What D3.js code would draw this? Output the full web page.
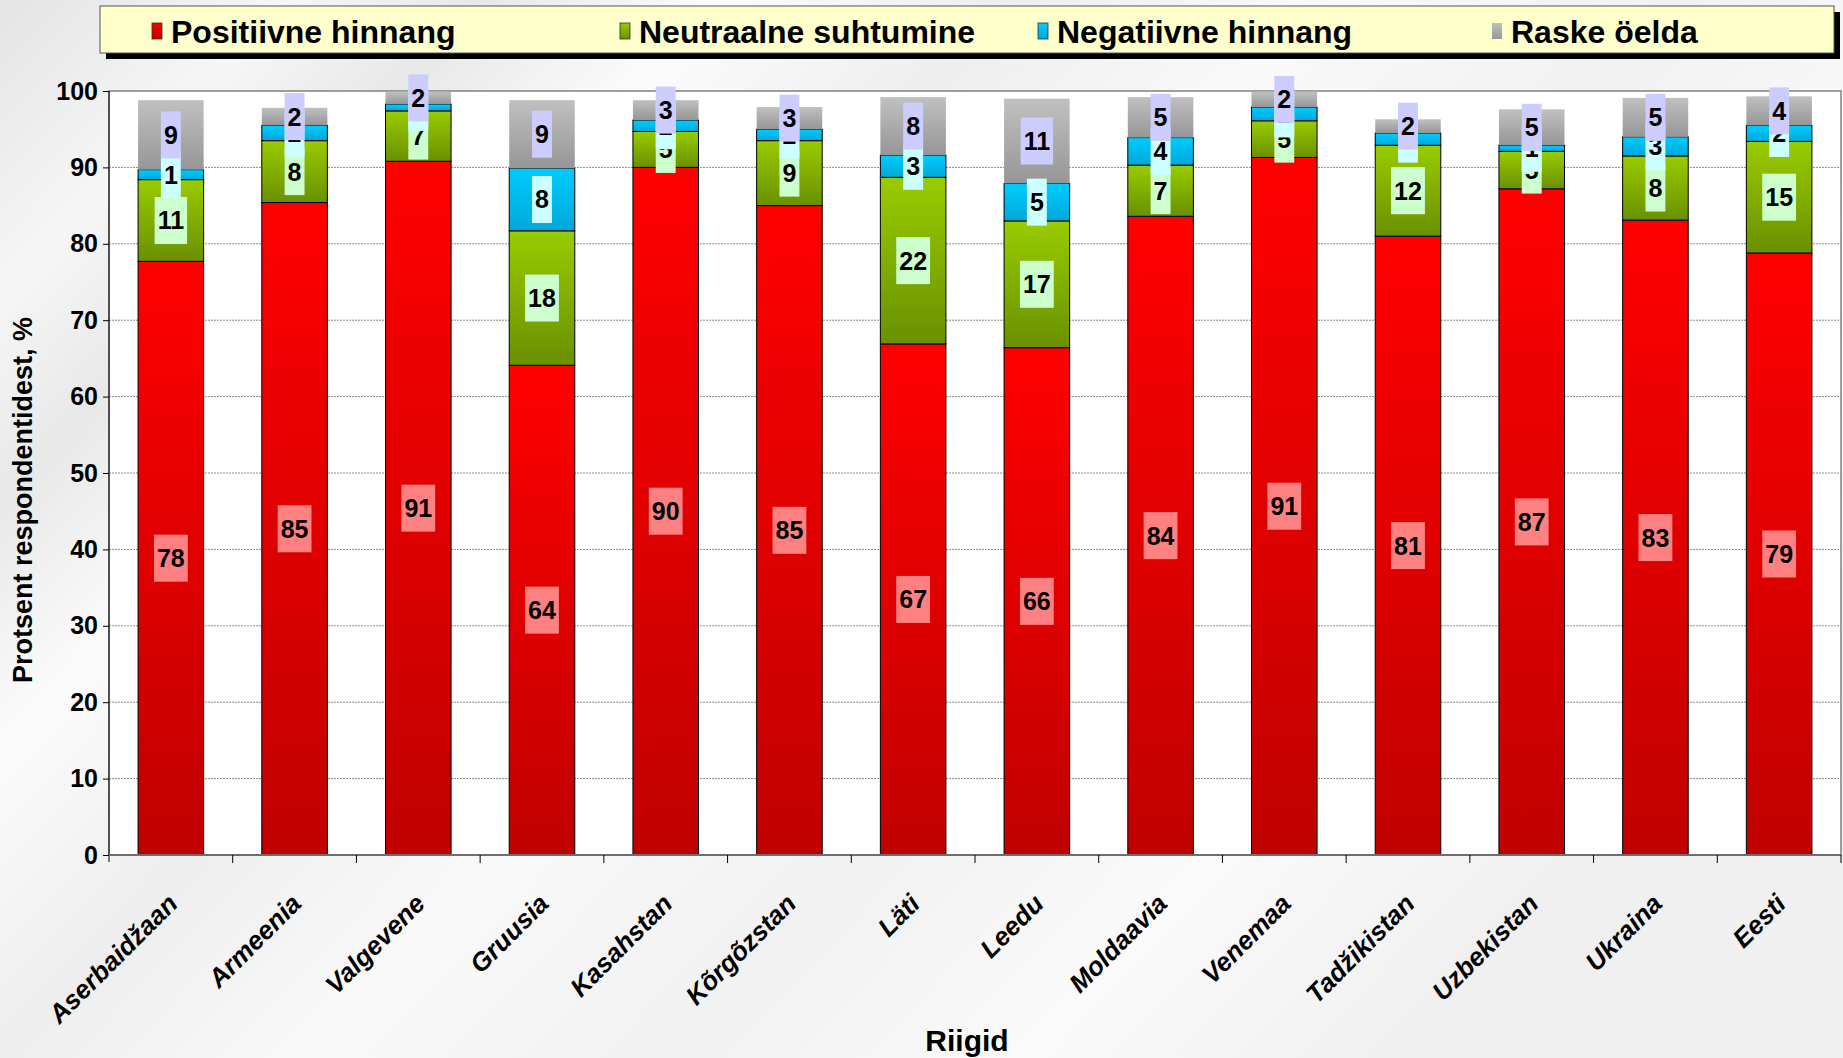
<!DOCTYPE html>
<html>
<head>
<meta charset="utf-8">
<script src="https://cdn.jsdelivr.net/npm/d3@7"></script>
<style>
  body { margin: 0; background: #f4f4f4; }
  svg { display: block; font-family: "Liberation Sans", Arial, sans-serif; }
</style>
</head>
<body>
<div id="chart"></div>
<script>
// data (percent of respondents)
const countries = ["Aserbaidžaan", "Armeenia", "Valgevene", "Gruusia", "Kasahstan", "Kõrgõzstan", "Läti",
    "Leedu", "Moldaavia", "Venemaa", "Tadžikistan", "Uzbekistan", "Ukraina", "Eesti"];
const positive = [77.7, 85.4, 90.8, 64.1, 90.0, 85.0, 66.9, 66.4, 83.6, 91.3, 81.0, 87.2, 83.1, 78.8];
const neutral  = [10.7, 8.1, 6.6, 17.6, 4.7, 8.5, 21.8, 16.6, 6.7, 4.8, 11.9, 4.9, 8.4, 14.6];
const negative = [1.3, 2.0, 0.9, 8.2, 1.5, 1.5, 2.9, 4.9, 3.6, 1.8, 1.6, 0.8, 2.5, 2.1];
const hard     = [9.1, 2.3, 1.6, 8.9, 2.6, 2.9, 7.6, 11.1, 5.3, 2.0, 1.8, 4.7, 5.1, 3.8];
const seriesNames = ["Positiivne hinnang", "Neutraalne suhtumine", "Negatiivne hinnang", "Raske öelda"];
const yTicks = [0, 10, 20, 30, 40, 50, 60, 70, 80, 90, 100];

const width = 1843, height = 1058;
const plot = {left: 109, right: 1841, top: 91, bottom: 855};

// colours per series: gradient top, gradient bottom, label box
const styles = [
    {top: '#ff0000', bottom: '#c00000', box: '#ff8080', stroke: '#000'},
    {top: '#99cc00', bottom: '#6a9000', box: '#ccffcc', stroke: '#000'},
    {top: '#00ccff', bottom: '#00a8d8', box: '#ccffff', stroke: '#000'},
    {top: '#c0c0c0', bottom: '#969696', box: '#ccccff', stroke: 'none'}
];

const keys = ['positive', 'neutral', 'negative', 'hard'];
const table = countries.map((c, i) => ({
    country: c, positive: positive[i], neutral: neutral[i], negative: negative[i], hard: hard[i]
}));
const stacked = d3.stack().keys(keys)(table);

const svg = d3.select('#chart').append('svg')
    .attr('width', width)
    .attr('height', height);

const defs = svg.append('defs');

// background with soft diagonal streaks
const bg = defs.append('linearGradient').attr('id', 'bg')
    .attr('x1', 0).attr('y1', 0).attr('x2', 1).attr('y2', 0.55);
[[0, '#e4e4e4'], [0.12, '#f6f6f6'], [0.2, '#e8e8e8'], [0.3, '#fbfbfb'], [0.42, '#eeeeee'],
 [0.55, '#f9f9f9'], [0.7, '#f1f1f1'], [0.85, '#fafafa'], [1, '#f0f0f0']]
    .forEach(s => bg.append('stop').attr('offset', s[0]).attr('stop-color', s[1]));

styles.forEach((s, i) => {
    const g = defs.append('linearGradient').attr('id', `grad${i}`)
        .attr('x1', 0).attr('y1', 0).attr('x2', 0).attr('y2', 1);
    g.append('stop').attr('offset', 0).attr('stop-color', s.top);
    g.append('stop').attr('offset', 1).attr('stop-color', s.bottom);
});

svg.append('rect').attr('width', width).attr('height', height).attr('fill', 'url(#bg)');

// scales
const x = d3.scaleBand()
    .domain(countries)
    .range([plot.left, plot.right])
    .paddingInner(0.47)
    .paddingOuter(0.235);

const y = d3.scaleLinear()
    .domain([0, 100])
    .range([plot.bottom, plot.top]);

// plot area
svg.append('rect')
    .attr('x', plot.left).attr('y', plot.top)
    .attr('width', plot.right - plot.left).attr('height', plot.bottom - plot.top)
    .attr('fill', '#fff')
    .attr('stroke', '#808080')
    .attr('stroke-width', 1.5);

// gridlines
svg.append('g')
    .selectAll('line')
    .data(yTicks.filter(t => t > 0 && t < 100))
    .join('line')
    .attr('x1', plot.left).attr('x2', plot.right)
    .attr('y1', d => y(d)).attr('y2', d => y(d))
    .attr('stroke', '#8c8c8c')
    .attr('stroke-width', 1)
    .attr('stroke-dasharray', '2,1');

// bars
const layers = svg.append('g')
    .selectAll('g')
    .data(stacked)
    .join('g')
    .attr('fill', (d, i) => `url(#grad${i})`)
    .attr('stroke', (d, i) => styles[i].stroke)
    .attr('stroke-width', 1);

layers.selectAll('rect')
    .data(d => d)
    .join('rect')
    .attr('x', d => x(d.data.country))
    .attr('y', d => y(d[1]))
    .attr('width', x.bandwidth())
    .attr('height', d => y(d[0]) - y(d[1]));

// axes
const yAxis = svg.append('g')
    .attr('transform', `translate(${plot.left},0)`)
    .call(d3.axisLeft(y).tickValues(yTicks).tickSize(6).tickPadding(5).tickSizeOuter(0));
yAxis.select('.domain').attr('d', `M0,${plot.top}V${plot.bottom + 7}`).attr('stroke', '#000');
yAxis.selectAll('.tick line').attr('stroke', '#000');
yAxis.selectAll('.tick text')
    .attr('font-size', 25)
    .attr('font-weight', 'bold')
    .attr('fill', '#000');

// x axis: base line and ticks between categories
const xg = svg.append('g');
xg.append('line')
    .attr('x1', plot.left).attr('x2', plot.right)
    .attr('y1', plot.bottom).attr('y2', plot.bottom)
    .attr('stroke', '#6e6e6e')
    .attr('stroke-width', 2);
xg.selectAll('.xtick')
    .data(countries)
    .join('line')
    .attr('class', 'xtick')
    .attr('x1', d => x(d) + x.bandwidth() / 2 + x.step() / 2)
    .attr('x2', d => x(d) + x.bandwidth() / 2 + x.step() / 2)
    .attr('y1', plot.bottom)
    .attr('y2', plot.bottom + 8)
    .attr('stroke', '#000');

xg.selectAll('.xlabel')
    .data(countries)
    .join('text')
    .attr('class', 'xlabel')
    .attr('transform', d => `translate(${x(d) + x.bandwidth() / 2},${plot.bottom + 42}) rotate(-45)`)
    .attr('dy', '0.45em')
    .attr('text-anchor', 'end')
    .attr('font-size', 26)
    .attr('font-weight', 'bold')
    .attr('font-style', 'italic')
    .text(d => d);

// data labels with filled boxes, one series after the other
const fmt = d3.format('.0f');
stacked.forEach((layer, i) => {
    const lg = svg.append('g');
    layer.forEach(d => {
        const cx = x(d.data.country) + x.bandwidth() / 2;
        const cy = y((d[0] + d[1]) / 2);
        const g = lg.append('g').attr('transform', `translate(${cx},${cy})`);
        const rect = g.append('rect').attr('fill', styles[i].box);
        const t = g.append('text')
            .attr('text-anchor', 'middle')
            .attr('dy', '0.36em')
            .attr('font-size', 25)
            .attr('font-weight', 'bold')
            .text(fmt(d[1] - d[0]));
        const w = t.node().getComputedTextLength() + 6;
        rect.attr('x', -w / 2).attr('y', -23.5).attr('width', w).attr('height', 47);
    });
});

// axis titles
svg.append('text')
    .attr('transform', `translate(32,500) rotate(-90)`)
    .attr('text-anchor', 'middle')
    .attr('font-size', 27)
    .attr('font-weight', 'bold')
    .text('Protsent respondentidest, %');

svg.append('text')
    .attr('x', 967)
    .attr('y', 1051)
    .attr('text-anchor', 'middle')
    .attr('font-size', 30)
    .attr('font-weight', 'bold')
    .text('Riigid');

// legend
const legend = svg.append('g');
legend.append('rect')
    .attr('x', 106).attr('y', 12).attr('width', 1734).attr('height', 47)
    .attr('fill', '#000');
legend.append('rect')
    .attr('x', 100).attr('y', 6).attr('width', 1734).attr('height', 47)
    .attr('fill', '#ffffcc')
    .attr('stroke', '#555')
    .attr('stroke-width', 1);

const legendX = [152, 620, 1038, 1492];
const items = legend.selectAll('.item')
    .data(seriesNames)
    .join('g')
    .attr('class', 'item')
    .attr('transform', (d, i) => `translate(${legendX[i]},31)`);
items.append('rect')
    .attr('x', 0).attr('y', -8).attr('width', 10).attr('height', 16)
    .attr('fill', (d, i) => `url(#grad${i})`)
    .attr('stroke', (d, i) => i === 3 ? 'none' : '#333')
    .attr('stroke-width', 0.8);
items.append('text')
    .attr('x', 19)
    .attr('dy', '0.36em')
    .attr('font-size', 32)
    .attr('font-weight', 'bold')
    .text(d => d);
</script>
</body>
</html>
